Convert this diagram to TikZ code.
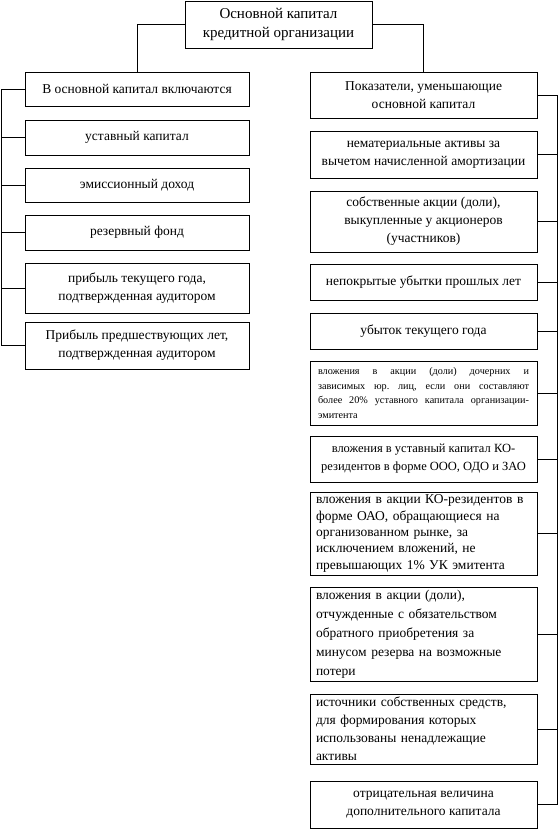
\documentclass[tikz,border=0pt]{standalone}
\usepackage{fontspec}
\setmainfont{Liberation Serif}
\frenchspacing
\begin{document}
\begin{tikzpicture}[x=1pt,y=-1pt,
  box/.style={draw, line width=0.7pt, inner sep=3pt, align=center,
    font=\fontsize{13.5}{18}\selectfont},
  lbox/.style={box, minimum width=224pt},
  rbox/.style={box, minimum width=227pt},
  smallj/.style={text width=211pt, align=justify, font=\fontsize{10.2}{14.5}\selectfont},
  leftt/.style={text width=215pt, align=left},
  conn/.style={line width=0.7pt}]
\useasboundingbox (0,0) rectangle (559,830);
\coordinate (lx) at (1,0);
\coordinate (rx) at (557.5,0);

\node[box, minimum width=187pt, minimum height=47pt, font=\fontsize{15}{19}\selectfont] (top) at (278.5,24.5)
  {Основной капитал\\кредитной организации};

\node[lbox, minimum height=34pt] (lh) at (137,89) {В основной капитал включаются};
\node[lbox, minimum height=35pt] (l1) at (137,137.5) {уставный капитал};
\node[lbox, minimum height=34pt] (l2) at (137,185) {эмиссионный доход};
\node[lbox, minimum height=35pt] (l3) at (137,232.5) {резервный фонд};
\node[lbox, minimum height=50pt] (l4) at (137,288) {прибыль текущего года,\\подтвержденная аудитором};
\node[lbox, minimum height=47pt] (l5) at (137,345.5) {Прибыль предшествующих лет,\\подтвержденная аудитором};

\node[rbox, minimum height=46pt] (rh) at (423.5,95) {Показатели, уменьшающие\\основной капитал};
\node[rbox, minimum height=47pt] (r1) at (423.5,154.5) {нематериальные активы за\\вычетом начисленной амортизации};
\node[rbox, minimum height=61pt] (r2) at (423.5,221.5) {собственные акции (доли),\\выкупленные у акционеров\\(участников)};
\node[rbox, minimum height=36pt] (r3) at (423.5,282) {непокрытые убытки прошлых лет};
\node[rbox, minimum height=36pt] (r4) at (423.5,331) {убыток текущего года};
\node[rbox, minimum height=64pt, smallj] (r5) at (423.5,393) {вложения в акции (доли) дочерних и\linebreak зависимых юр. лиц, если они составляют\linebreak более 20\% уставного капитала организации-\linebreak эмитента};
\node[rbox, minimum height=46pt, font=\fontsize{12.5}{18}\selectfont] (r6) at (423.5,459) {вложения в уставный капитал КО-\\резидентов в форме ООО, ОДО и ЗАО};
\node[rbox, minimum height=79pt, leftt, font=\fontsize{13.5}{16.3}\selectfont] (r7) at (423.5,533.5) {вложения в акции КО-резидентов в\\форме ОАО, обращающиеся на\\организованном рынке, за\\исключением вложений, не\\превышающих 1\% УК эмитента};
\node[rbox, minimum height=94pt, leftt, font=\fontsize{13.5}{19}\selectfont] (r8) at (423.5,634) {вложения в акции (доли),\\отчужденные с обязательством\\обратного приобретения за\\минусом резерва на возможные\\потери};
\node[rbox, minimum height=70pt, leftt, font=\fontsize{13.5}{18}\selectfont] (r9) at (423.5,729) {источники собственных средств,\\для формирования которых\\использованы ненадлежащие\\активы};
\node[rbox, minimum height=47pt] (r10) at (423.5,804.5) {отрицательная величина\\дополнительного капитала};

\draw[conn] (top.west) -| (lh.north);
\draw[conn] (top.east) -| (rh.north);

\draw[conn] (lh.west) -- (lx |- lh.west) -- (lx |- l5.west) -- (l5.west);
\foreach \n in {l1,l2,l3,l4} \draw[conn] (\n.west) -- (lx |- \n.west);

\draw[conn] (rh.east) -- (rx |- rh.east) -- (rx |- r10.east) -- (r10.east);
\foreach \n in {r1,r2,r3,r4,r5,r6,r7,r8,r9} \draw[conn] (\n.east) -- (rx |- \n.east);
\end{tikzpicture}
\end{document}
